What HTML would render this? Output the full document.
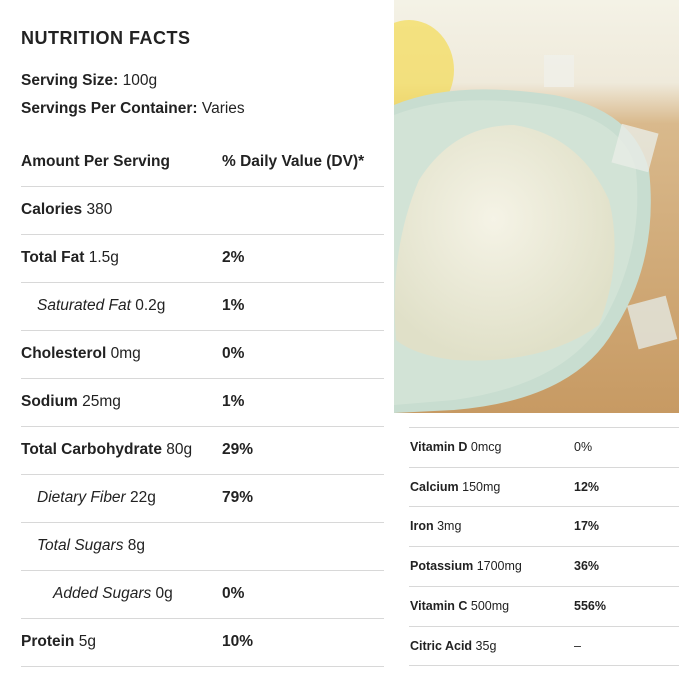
<!DOCTYPE html>
<html><head><meta charset="utf-8"><style>
body{margin:0;width:679px;height:679px;background:#fff;position:relative;overflow:hidden;font-family:"Liberation Sans","DejaVu Sans",sans-serif;color:#222}
.a{position:absolute;white-space:nowrap}
.b{font-weight:bold}
.line{position:absolute;height:1px;background:#d8d8d8}
.L{font-size:15.5px}
.R{font-size:12.5px}
</style></head><body>
<div class="a b" style="left:21px;top:28px;font-size:18px;letter-spacing:0.5px">NUTRITION FACTS</div>
<div class="a L" style="left:21px;top:72px"><b>Serving Size:</b> 100g</div>
<div class="a L" style="left:21px;top:100px"><b>Servings Per Container:</b> Varies</div>
<div class="a L b" style="left:21px;top:153px">Amount Per Serving</div>
<div class="a L b" style="left:222px;top:153px">% Daily Value (DV)*</div>
<svg class="a" style="left:394px;top:0" width="285" height="413">
<defs>
<linearGradient id="bg" x1="0" y1="0" x2="0" y2="1"><stop offset="0" stop-color="#f4f2e6"/><stop offset="0.2" stop-color="#efeadb"/><stop offset="0.3" stop-color="#d9b98c"/><stop offset="1" stop-color="#c79a63"/></linearGradient>
<radialGradient id="pw" cx="0.45" cy="0.4" r="0.6"><stop offset="0" stop-color="#f5f3e6"/><stop offset="1" stop-color="#e0e0c8"/></radialGradient>
</defs>
<rect width="285" height="413" fill="url(#bg)"/>
<ellipse cx="15" cy="70" rx="45" ry="50" fill="#f3dc55" opacity="0.7"/>
<path d="M0 105 Q60 80 160 95 Q240 110 255 170 Q265 260 220 330 Q180 400 60 410 L0 413 Z" fill="#c8ddd0"/>
<path d="M0 115 Q60 92 150 105 Q230 118 242 170 Q250 250 210 320 Q170 385 60 400 L0 405 Z" fill="#d2e3d6"/>
<path d="M2 340 Q-5 250 25 180 Q60 125 120 125 Q185 135 215 200 Q230 260 205 325 Q150 365 60 360 Q20 355 2 340 Z" fill="url(#pw)"/>
<rect x="222" y="128" width="38" height="40" fill="#e8ece6" opacity="0.8" transform="rotate(15 241 148)"/>
<rect x="238" y="300" width="40" height="45" fill="#e4e8e2" opacity="0.8" transform="rotate(-15 258 322)"/>
<rect x="150" y="55" width="30" height="32" fill="#f0f0ea" opacity="0.8"/>
</svg>
<script>
const leftNames=["Calories","Total Fat","Saturated Fat","Cholesterol","Sodium","Total Carbohydrate","Dietary Fiber","Total Sugars","Added Sugars","Protein"];
const leftAmounts=["380","1.5g","0.2g","0mg","25mg","80g","22g","8g","0g","5g"];
const leftDV=["","2%","1%","0%","1%","29%","79%","","0%","10%"];
const leftIndent=[0,0,1,0,0,0,1,1,2,0];
const rightNames=["Vitamin D","Calcium","Iron","Potassium","Vitamin C","Citric Acid"];
const rightAmounts=["0mcg","150mg","3mg","1700mg","500mg","35g"];
const rightDV=["0%","12%","17%","36%","556%","–"];
function mk(html,style,name,cls){const d=document.createElement('div');d.className=cls;d.style.cssText=style;d.innerHTML=html;


document.body.appendChild(d);return d;}
mk('','left:21px;top:186px;width:363px','header-divider','line');
leftNames.forEach((n,i)=>{const y=186+i*48;const sub=leftIndent[i]>0;
const lbl=sub?'<i>'+n+'</i> '+leftAmounts[i]:'<b>'+n+'</b> '+leftAmounts[i];
mk(lbl,'left:'+(21+leftIndent[i]*16)+'px;top:'+(y+15)+'px','row-'+n.toLowerCase().replace(/ /g,'-'),'a L');
if(leftDV[i])mk(leftDV[i],'left:222px;top:'+(y+15)+'px','dv-'+n.toLowerCase().replace(/ /g,'-'),'a L b');
mk('','left:21px;top:'+(y+48)+'px;width:363px','row-divider','line');});
mk('','left:409px;top:427px;width:270px','right-divider','line');
rightNames.forEach((n,i)=>{const y=427+i*39.7;
mk('<b>'+n+'</b> '+rightAmounts[i],'left:410px;top:'+(y+13)+'px','row-'+n.toLowerCase().replace(/ /g,'-'),'a R');
mk(rightDV[i],'left:574px;top:'+(y+13)+'px','dv-'+n.toLowerCase().replace(/ /g,'-'),'a R'+(i>0&&i<5?' b':''));
mk('','left:409px;top:'+(y+39.7)+'px;width:270px','row-divider','line');});
</script>
</body></html>
